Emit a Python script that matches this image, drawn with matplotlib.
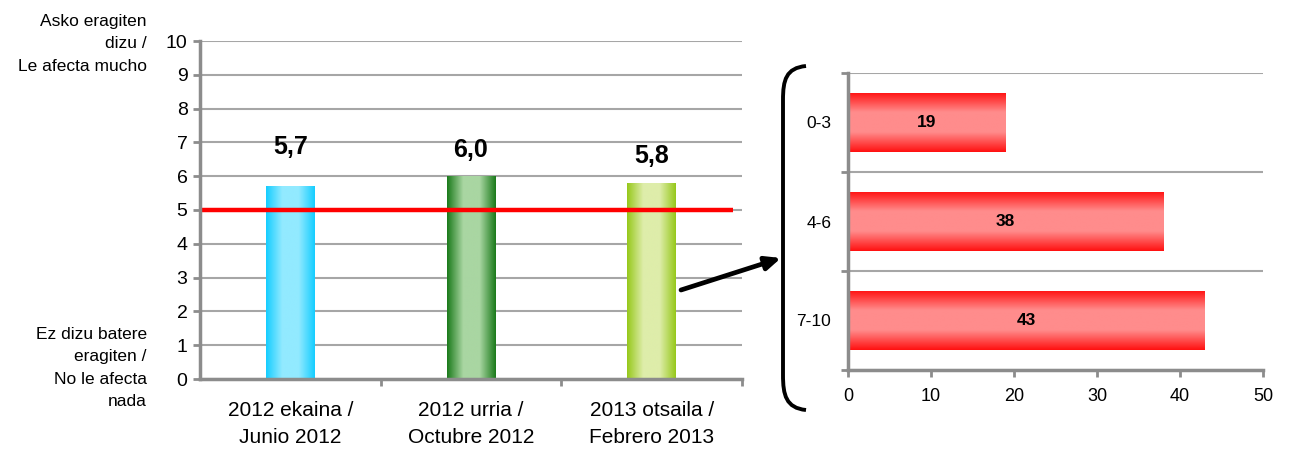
import numpy as np
import matplotlib
matplotlib.use("Agg")
import matplotlib.pyplot as plt
from matplotlib.colors import LinearSegmentedColormap
from matplotlib.path import Path
from matplotlib.patches import PathPatch

plt.rcParams['font.family'] = ['Liberation Sans', 'DejaVu Sans']

# ---- data ----
periods = ["2012 ekaina /\nJunio 2012", "2012 urria /\nOctubre 2012", "2013 otsaila /\nFebrero 2013"]
scores = [5.7, 6.0, 5.8]
score_labels = ["5,7", "6,0", "5,8"]
reference_value = 5
y_ticks = list(range(0, 11))
top_note = "Asko eragiten\ndizu /\nLe afecta mucho"
bottom_note = "Ez dizu batere\neragiten /\nNo le afecta\nnada"

ranges = ["0-3", "4-6", "7-10"]
range_pct = [19, 38, 43]
x_ticks_right = [0, 10, 20, 30, 40, 50]

# ---- styles ----
bar_grad = [("#14cdff", "#92eaff"), ("#1a7a1a", "#a9d6a2"), ("#96c81a", "#deedaa")]
label_offsets = [0.96, 0.56, 0.58]
grid_c = "#a6a6a6"
spine_c = "#8c8c8c"

W, H = 1290, 453
fig = plt.figure(figsize=(W / 100, H / 100), dpi=100)

# ---------------- left chart ----------------
ax = fig.add_axes([200 / W, 1 - 379 / H, (742 - 200) / W, (379 - 41) / H])
x = np.arange(len(periods))
bars = ax.bar(x, scores, width=0.27, color="none", edgecolor="none", zorder=3)
for b, (edge, center) in zip(bars, bar_grad):
    cmap = LinearSegmentedColormap.from_list("g", [edge, center, center, edge], N=256)
    grad = np.linspace(0, 1, 256).reshape(1, -1)
    im = ax.imshow(grad, cmap=cmap, aspect="auto", zorder=3,
                   extent=(b.get_x(), b.get_x() + b.get_width(), 0, b.get_height()))
    im.set_clip_path(b)
for xi, v, lab, off in zip(x, scores, score_labels, label_offsets):
    ax.text(xi, v + off, lab, ha="center", va="baseline", fontsize=18, fontweight="bold", zorder=5)
ax.plot([-0.5, 2.45], [reference_value, reference_value], color="#ff0000", lw=3.2, zorder=4,
        solid_capstyle="butt")
ax.set_xlim(-0.5, 2.5)
ax.set_ylim(0, 10)
ax.set_yticks(y_ticks)
ax.tick_params(axis="y", labelsize=14, length=5, width=2, color=spine_c, direction="out", pad=4)
ax.set_xticks(x)
ax.set_xticklabels(periods, fontsize=15, linespacing=1.5)
ax.set_xticks([0.5, 1.5, 2.5], minor=True)
ax.tick_params(axis="x", which="major", length=0, pad=16)
ax.tick_params(axis="x", which="minor", length=5, width=2, color=spine_c, direction="out")
ax.yaxis.grid(True, color=grid_c, lw=1.5)
ax.set_axisbelow(True)
for s in ["top", "right"]:
    ax.spines[s].set_visible(False)
for s in ["left", "bottom"]:
    ax.spines[s].set_color(spine_c)
    ax.spines[s].set_linewidth(2.5)
    ax.spines[s].set_zorder(6)

fig.text(147 / W, 1 - 44 / H, top_note, ha="right", va="center", fontsize=12.5, linespacing=1.6)
fig.text(147 / W, 1 - 368 / H, bottom_note, ha="right", va="center", fontsize=12.5, linespacing=1.6)

# ---------------- right chart ----------------
ax2 = fig.add_axes([848 / W, 1 - 370 / H, (1263 - 848) / W, (370 - 73) / H])
yr = np.arange(len(ranges))
hb = ax2.barh(yr, range_pct, height=0.6, color="none", edgecolor="none", zorder=3)
for b in hb:
    cmap = LinearSegmentedColormap.from_list("r", ["#ff1010", "#ff8c8c", "#ff8c8c", "#ff1010"], N=256)
    grad = np.linspace(0, 1, 256).reshape(-1, 1)
    im = ax2.imshow(grad, cmap=cmap, aspect="auto", zorder=3,
                    extent=(0, b.get_width(), b.get_y() + b.get_height(), b.get_y()))
    im.set_clip_path(b)
for yi, v in zip(yr, range_pct):
    ax2.text(v / 2, yi, str(v), ha="center", va="center", fontsize=12.5, fontweight="bold", zorder=5)
ax2.set_xlim(0, 50)
ax2.set_ylim(2.5, -0.5)
ax2.set_yticks(yr)
ax2.set_yticklabels(ranges, fontsize=12.5)
ax2.set_yticks([-0.5, 0.5, 1.5, 2.5], minor=True)
ax2.tick_params(axis="y", which="major", length=0, pad=12)
ax2.tick_params(axis="y", which="minor", length=5, width=2, color=spine_c, direction="out")
ax2.set_xticks(x_ticks_right)
ax2.tick_params(axis="x", labelsize=13, length=5, width=2, color=spine_c, direction="out", pad=8)
ax2.yaxis.grid(True, which="minor", color=grid_c, lw=1.5)
ax2.set_axisbelow(True)
for s in ["top", "right"]:
    ax2.spines[s].set_visible(False)
for s in ["left", "bottom"]:
    ax2.spines[s].set_color(spine_c)
    ax2.spines[s].set_linewidth(2.5)
    ax2.spines[s].set_zorder(6)

# ---------------- overlay: bracket + arrow ----------------
ov = fig.add_axes([0, 0, 1, 1], facecolor="none")
ov.set_xlim(0, W)
ov.set_ylim(H, 0)
ov.axis("off")
verts = [(806, 66), (786, 68), (783, 80), (783, 100),
         (783, 375), (783, 395), (786, 408), (806, 410)]
codes = [Path.MOVETO, Path.CURVE4, Path.CURVE4, Path.CURVE4,
         Path.LINETO, Path.CURVE4, Path.CURVE4, Path.CURVE4]
ov.add_patch(PathPatch(Path(verts, codes), fill=False, lw=2.8, color="black", capstyle="butt"))
ov.annotate("", xy=(781, 258), xytext=(681, 290),
            arrowprops=dict(arrowstyle="-|>,head_length=0.9,head_width=0.4", lw=3.4, color="black",
                            shrinkA=0, shrinkB=0))

fig.savefig("out.png", dpi=100)
